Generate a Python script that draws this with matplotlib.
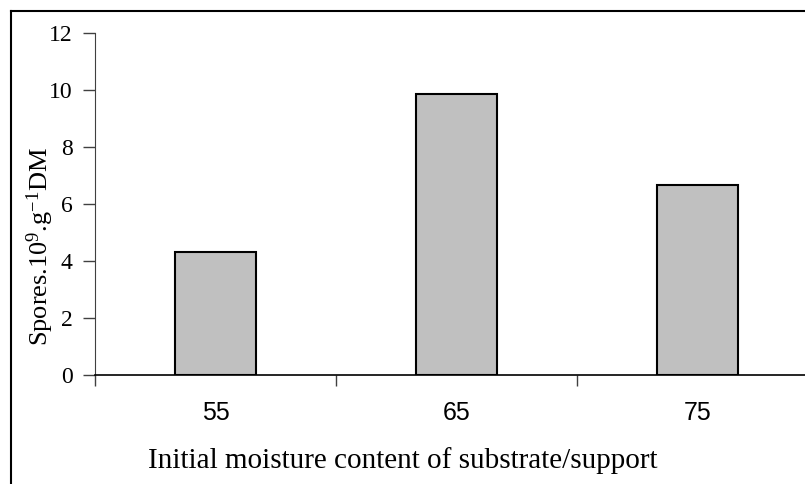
import matplotlib
matplotlib.use('agg')
import matplotlib.pyplot as plt
from matplotlib.lines import Line2D

# valores
umidade = ['55', '65', '75']
esporos = [4.3, 9.85, 6.68]
y_ticks = [0, 2, 4, 6, 8, 10, 12]

plt.rcParams['mathtext.fontset'] = 'custom'
plt.rcParams['mathtext.rm'] = 'Liberation Serif'
plt.rcParams['mathtext.it'] = 'Liberation Serif'

fig = plt.figure(figsize=(8.05, 4.84), dpi=100)
ax = fig.add_axes([95 / 805, 1 - 375 / 484, 723 / 805, (375 - 33) / 484])

x = range(len(umidade))
ax.bar(x, esporos, width=0.336, color='#c0c0c0', edgecolor='black', linewidth=1.5, zorder=3)

ax.set_xlim(-0.5, len(umidade) - 0.5)
ax.set_ylim(0, 12)
ax.set_yticks(y_ticks)
ax.set_yticklabels([str(v) for v in y_ticks], fontfamily='Liberation Serif', fontsize=17)

# ticks principais nas divisas das categorias, rotulos nos centros
ax.set_xticks([i - 0.5 for i in range(len(umidade) + 1)])
ax.set_xticklabels([])
ax.set_xticks(list(x), minor=True)
ax.set_xticklabels(umidade, minor=True, fontfamily='Liberation Sans', fontsize=18)
ax.tick_params(axis='x', which='major', direction='out', length=8, width=1, color='#404040')
ax.tick_params(axis='x', which='minor', length=0, pad=19)
ax.tick_params(axis='y', direction='out', length=9, width=1, color='#404040', pad=7)

for lado in ['top', 'right']:
    ax.spines[lado].set_visible(False)
ax.spines['left'].set_color('#404040')
ax.spines['bottom'].set_color('black')
ax.spines['bottom'].set_linewidth(1.2)

# titulos dos eixos posicionados como no original
fig.text(40 / 805, 1 - 247 / 484, 'Spores.10$^{9}$.g$^{-1}$DM', rotation=90,
         ha='center', va='center', fontfamily='Liberation Serif', fontsize=19)
fig.text(403 / 805, 1 - 461 / 484, 'Initial moisture content of substrate/support',
         ha='center', va='center', fontfamily='Liberation Serif', fontsize=21)

# moldura (so topo e esquerda aparecem no recorte)
fig.add_artist(Line2D([11 / 805, 1], [1 - 11 / 484, 1 - 11 / 484], color='black', lw=1.5))
fig.add_artist(Line2D([11 / 805, 11 / 805], [0, 1 - 11 / 484], color='black', lw=1.5))

fig.savefig('out.png', dpi=100)
